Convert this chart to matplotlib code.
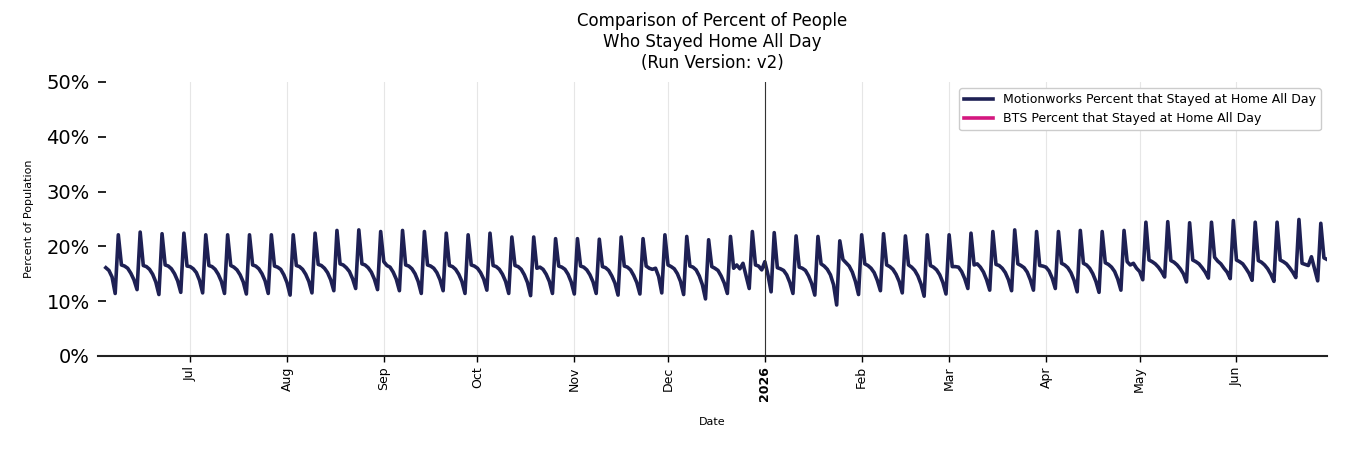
import matplotlib.pyplot as plt
import matplotlib.ticker as mtick
import pandas as pd

# daily values, first row is a partial week (Wed-Sat), then Sun..Sat per row
start_date = "2025-06-04"
motionworks_pct = [
    16.1, 15.6, 14.4, 11.4,
    22.1, 16.6, 16.4, 16.0, 15.1, 13.9, 12.1,
    22.6, 16.5, 16.3, 15.8, 14.9, 13.5, 11.2,
    22.3, 16.6, 16.4, 15.9, 15.0, 13.7, 11.6,
    22.4, 16.4, 16.3, 15.9, 15.2, 13.8, 11.5,
    22.1, 16.5, 16.3, 15.8, 14.9, 13.6, 11.4,
    22.1, 16.5, 16.2, 15.7, 14.8, 13.5, 11.3,
    22.1, 16.6, 16.4, 15.9, 15.0, 13.7, 11.4,
    22.1, 16.4, 16.2, 15.8, 14.8, 13.4, 11.1,
    22.1, 16.5, 16.3, 15.8, 14.9, 13.6, 11.5,
    22.4, 16.7, 16.5, 16.0, 15.2, 13.9, 11.9,
    22.9, 16.8, 16.6, 16.1, 15.4, 14.1, 12.3,
    23.0, 16.8, 16.6, 16.1, 15.3, 14.0, 12.1,
    22.7, 17.2, 16.5, 16.2, 15.3, 14.0, 11.9,
    22.9, 16.6, 16.4, 15.9, 15.0, 13.6, 11.4,
    22.7, 16.6, 16.4, 16.0, 15.2, 13.9, 11.9,
    22.4, 16.5, 16.3, 15.8, 14.9, 13.6, 11.4,
    22.1, 16.6, 16.4, 16.0, 15.2, 14.0, 12.0,
    22.4, 16.5, 16.3, 15.8, 14.9, 13.6, 11.4,
    21.7, 16.5, 16.3, 15.8, 14.8, 13.4, 11.0,
    21.7, 16.0, 16.2, 15.8, 14.9, 13.6, 11.4,
    21.4, 16.4, 16.2, 15.8, 14.9, 13.5, 11.3,
    21.4, 16.4, 16.2, 15.7, 14.8, 13.5, 11.4,
    21.3, 16.3, 16.1, 15.6, 14.6, 13.3, 11.1,
    21.7, 16.4, 16.2, 15.7, 14.7, 13.4, 11.3,
    21.4, 16.4, 16.0, 15.8, 16.0, 14.5, 11.5,
    22.1, 16.6, 16.3, 15.9, 15.0, 13.6, 11.2,
    21.8, 16.4, 16.2, 15.7, 14.6, 13.0, 10.4,
    21.2, 16.3, 16.0, 15.6, 14.6, 13.3, 11.4,
    21.8, 16.0, 16.6, 15.9, 16.9, 14.6, 12.3,
    22.7, 16.6, 16.4, 15.7, 17.2, 14.8, 11.7,
    22.5, 16.1, 15.9, 15.6, 14.8, 13.4, 11.4,
    21.9, 16.2, 16.0, 15.6, 14.6, 13.2, 11.1,
    21.8, 16.8, 16.4, 15.8, 14.8, 13.0, 9.3,
    21.0, 17.6, 17.0, 16.4, 15.3, 13.6, 11.2,
    22.1, 16.8, 16.5, 16.0, 15.2, 13.8, 11.9,
    22.3, 16.6, 16.3, 15.8, 14.9, 13.6, 11.5,
    21.9, 16.6, 16.2, 15.6, 14.6, 13.1, 10.9,
    22.1, 16.5, 16.2, 15.7, 14.8, 13.4, 11.3,
    22.1, 16.3, 16.3, 16.2, 15.4, 14.1, 12.3,
    22.4, 16.6, 16.8, 16.2, 15.3, 13.9, 12.0,
    22.7, 16.7, 16.5, 16.0, 15.2, 13.9, 11.9,
    23.0, 16.8, 16.5, 16.1, 15.3, 13.9, 12.0,
    22.7, 16.5, 16.4, 16.2, 15.5, 14.2, 12.3,
    22.7, 16.9, 16.6, 16.1, 15.2, 13.8, 11.7,
    22.9, 16.9, 16.6, 16.0, 15.0, 13.6, 11.6,
    22.7, 17.0, 16.7, 16.2, 15.4, 14.0, 12.0,
    22.9, 17.2, 16.6, 16.9, 16.0, 15.4, 13.9,
    24.4, 17.5, 17.2, 16.8, 16.2, 15.4, 14.4,
    24.5, 17.4, 17.1, 16.6, 15.9, 15.0, 13.5,
    24.3, 17.5, 17.2, 16.8, 16.1, 15.3, 14.2,
    24.4, 18.0, 17.3, 16.8, 16.0, 15.3, 14.1,
    24.7, 17.5, 17.2, 16.8, 16.0, 15.1, 13.8,
    24.4, 17.4, 17.1, 16.6, 15.9, 14.9, 13.6,
    24.4, 17.5, 17.2, 16.8, 16.1, 15.3, 14.3,
    24.9, 16.9, 16.7, 16.5, 18.1, 15.9, 13.7,
    24.2, 17.9, 17.6,
]
bts_pct = []  # no BTS values in this run

month_ticks = ["2025-07-01", "2025-08-01", "2025-09-01", "2025-10-01", "2025-11-01", "2025-12-01",
               "2026-01-01", "2026-02-01", "2026-03-01", "2026-04-01", "2026-05-01", "2026-06-01"]
month_labels = ["Jul", "Aug", "Sep", "Oct", "Nov", "Dec", "2026", "Feb", "Mar", "Apr", "May", "Jun"]
y_ticks = [0, 10, 20, 30, 40, 50]

dates = pd.date_range(start_date, periods=len(motionworks_pct), freq="D")

fig = plt.figure(figsize=(13.5, 4.5), dpi=100)
ax = fig.add_axes([0.0726, 0.209, 0.9104, 0.609])

ax.plot(dates, motionworks_pct, color="#1e2054", lw=2.6,
        label="Motionworks Percent that Stayed at Home All Day")
ax.plot(dates[:len(bts_pct)], bts_pct, color="#d4177f", lw=2.6,
        label="BTS Percent that Stayed at Home All Day")

# year boundary
ax.axvline(pd.Timestamp("2026-01-01"), color="#333333", lw=0.8)

ax.set_xlim(pd.Timestamp("2025-06-01 12:00"), pd.Timestamp("2026-06-30"))
ax.set_xticks(pd.to_datetime(month_ticks))
ax.set_xticklabels(month_labels, rotation=90, fontsize=9)
for lbl in ax.get_xticklabels():
    if lbl.get_text() == "2026":
        lbl.set_fontweight("bold")
ax.grid(axis="x", color="#e6e6e6", lw=0.8)
ax.set_axisbelow(True)

ax.set_ylim(0, 50)
ax.set_yticks(y_ticks)
ax.yaxis.set_major_formatter(mtick.PercentFormatter(100, decimals=0))
ax.tick_params(axis="y", labelsize=14, direction="in", length=6, width=1.2, pad=6)
ax.tick_params(axis="x", length=4, width=1)

for s in ["top", "right", "left"]:
    ax.spines[s].set_visible(False)
ax.spines["bottom"].set_color("#222222")
ax.spines["bottom"].set_linewidth(1.5)

ax.set_title("Comparison of Percent of People\nWho Stayed Home All Day\n(Run Version: v2)",
             fontsize=12, pad=10)
ax.set_ylabel("Percent of Population", fontsize=8, labelpad=9)
ax.set_xlabel("Date", fontsize=8, labelpad=11)

ax.legend(loc="upper right", fontsize=9, handlelength=2.3, edgecolor="#cccccc", framealpha=1)

fig.savefig("out.png", dpi=100)
